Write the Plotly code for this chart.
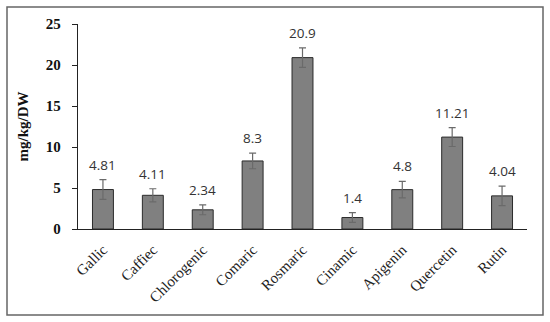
import plotly.graph_objects as go

categories = ["Gallic", "Caffiec", "Chlorogenic", "Comaric", "Rosmaric", "Cinamic", "Apigenin", "Quercetin", "Rutin"]
values = [4.81, 4.11, 2.34, 8.3, 20.9, 1.4, 4.8, 11.21, 4.04]
errors = [1.2, 0.8, 0.6, 0.95, 1.2, 0.6, 1.0, 1.15, 1.2]
labels = ["4.81", "4.11", "2.34", "8.3", "20.9", "1.4", "4.8", "11.21", "4.04"]
y_ticks = [0, 5, 10, 15, 20, 25]

fig = go.Figure()
fig.add_trace(go.Bar(
    x=categories, y=values,
    marker=dict(color="#808080", line=dict(color="#2b2b2b", width=1)),
    error_y=dict(type="data", array=errors, color="#6a6a6a", thickness=1.2, width=3.5),
    hoverinfo="skip",
))
for c, v, e, s in zip(categories, values, errors, labels):
    fig.add_annotation(x=c, y=v + e, text=s, showarrow=False, yanchor="bottom", yshift=4,
                       font=dict(family="Open Sans, Liberation Sans, sans-serif", size=13.5, color="#333"))

W, H = 550, 322
l, r, t, b = 78, 23, 24, 93
pw, ph = W - l - r, H - t - b
def px(x): return (x - l) / pw
def py(y): return (H - b - y) / ph

fig.update_layout(
    width=W, height=H,
    margin=dict(l=l, r=r, t=t, b=b, autoexpand=False),
    paper_bgcolor="white", plot_bgcolor="white",
    showlegend=False,
    bargap=0.58,
    xaxis=dict(
        automargin=False,
        showline=True, linecolor="#222", linewidth=1.3,
        tickangle=-45, ticks="", ticklabelstandoff=5,
        tickfont=dict(family="Liberation Serif, Times New Roman, serif", size=15, color="#222"),
    ),
    yaxis=dict(
        automargin=False,
        range=[0, 25], tickvals=y_ticks,
        ticktext=["<b>%d</b>" % v for v in y_ticks],
        showline=True, linecolor="#222", linewidth=1.3,
        ticks="outside", ticklen=5, tickcolor="#222", ticklabelstandoff=8,
        showgrid=False, zeroline=False,
        tickfont=dict(family="Liberation Serif, Times New Roman, serif", size=15, color="#111"),
        title=dict(text="<b>mg/kg/DW</b>", standoff=13,
                   font=dict(family="Liberation Serif, Times New Roman, serif", size=15, color="#111")),
    ),
    shapes=[dict(type="rect", xref="paper", yref="paper",
                 x0=px(7), x1=px(543), y0=py(315), y1=py(7),
                 line=dict(color="#666", width=1.5), fillcolor="rgba(0,0,0,0)", layer="above")],
)

fig.write_html("out.html", config={"displayModeBar": False},
               post_script="document.body.style.margin='0';document.body.style.padding='0';")
